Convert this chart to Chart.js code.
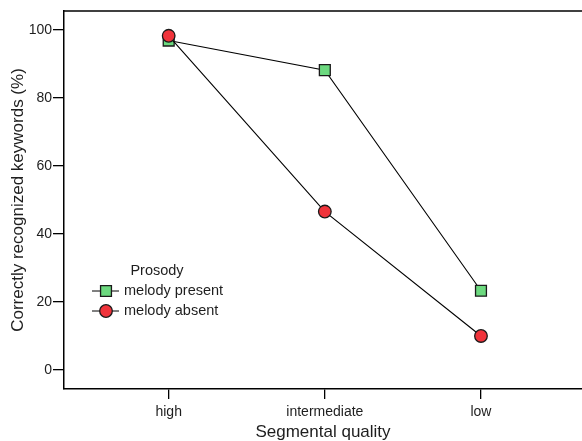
<!DOCTYPE html>
<html>
<head>
<meta charset="utf-8">
<script src="https://cdn.jsdelivr.net/npm/chart.js@4/dist/chart.umd.min.js"></script>
<style>
  html, body { margin: 0; padding: 0; background: #fff; overflow: hidden; }
  #wrap { width: 582px; height: 441px; }
  canvas { display: block; }
</style>
</head>
<body>
<div id="wrap"><canvas id="c" width="582" height="441"></canvas></div>
<script>
const categories = ['high', 'intermediate', 'low'];
const melodyPresent = [96.9, 88.2, 23.3];
const melodyAbsent = [98.3, 46.6, 10.0];
const yTicks = [0, 20, 40, 60, 80, 100];
const seriesLabels = ['melody present', 'melody absent'];
const legendTitle = 'Prosody';
const xTitle = 'Segmental quality';
const yTitle = 'Correctly recognized keywords (%)';

const FONT = "'Liberation Sans', Arial, Helvetica, sans-serif";
const TEXT = '#1e1e1e';

const topBorder = {
  id: 'topBorder',
  afterDraw(chart) {
    const { ctx, chartArea } = chart;
    ctx.save();
    // keep the right side open, like the reference
    ctx.fillStyle = '#fff';
    ctx.fillRect(chartArea.right - 3, chartArea.top + 1, 3, chartArea.bottom - chartArea.top - 2);
    ctx.strokeStyle = '#000';
    ctx.lineWidth = 1.5;
    ctx.beginPath();
    ctx.moveTo(chartArea.left - 0.75, chartArea.top);
    ctx.lineTo(chartArea.right, chartArea.top);
    ctx.stroke();
    ctx.restore();
  }
};

const innerLegend = {
  id: 'innerLegend',
  afterDraw(chart) {
    const { ctx } = chart;
    ctx.save();
    ctx.font = '14.5px ' + FONT;
    ctx.fillStyle = TEXT;
    ctx.textBaseline = 'middle';
    ctx.textAlign = 'center';
    ctx.fillText(legendTitle, 157, 271);
    const rows = [chart.data.datasets[0], chart.data.datasets[1]];
    rows.forEach((ds, i) => {
      const y = 291 + i * 20;
      ctx.strokeStyle = '#000';
      ctx.lineWidth = 1;
      ctx.beginPath();
      ctx.moveTo(92, y);
      ctx.lineTo(119, y);
      ctx.stroke();
      ctx.fillStyle = ds.pointBackgroundColor;
      ctx.strokeStyle = ds.pointBorderColor;
      ctx.lineWidth = ds.pointBorderWidth;
      ctx.beginPath();
      if (ds.pointStyle === 'rect') {
        const s = Math.SQRT1_2 * ds.pointRadius;
        ctx.rect(106 - s, y - s, 2 * s, 2 * s);
      } else {
        ctx.arc(106, y, ds.pointRadius, 0, Math.PI * 2);
      }
      ctx.fill();
      ctx.stroke();
      ctx.fillStyle = TEXT;
      ctx.textAlign = 'left';
      ctx.fillText(ds.label, 124, y);
    });
    ctx.restore();
  }
};

new Chart(document.getElementById('c'), {
  type: 'line',
  data: {
    datasets: [
      {
        label: seriesLabels[0],
        data: categories.map((c, i) => ({ x: i, y: melodyPresent[i] })),
        borderColor: '#000',
        borderWidth: 1.1,
        pointStyle: 'rect',
        pointRadius: 7.7,
        pointHoverRadius: 7.7,
        pointBackgroundColor: '#6cd97f',
        pointBorderColor: '#1a1a1a',
        pointBorderWidth: 1.3,
        tension: 0,
        clip: false,
        order: 1
      },
      {
        label: seriesLabels[1],
        data: categories.map((c, i) => ({ x: i, y: melodyAbsent[i] })),
        borderColor: '#000',
        borderWidth: 1.1,
        pointStyle: 'circle',
        pointRadius: 6.3,
        pointHoverRadius: 6.3,
        pointBackgroundColor: '#f0333b',
        pointBorderColor: '#1a1a1a',
        pointBorderWidth: 1.3,
        tension: 0,
        clip: false,
        order: 0
      }
    ]
  },
  options: {
    responsive: false,
    animation: false,
    devicePixelRatio: 1,
    events: [],
    layout: { autoPadding: false, padding: { top: 11, right: 0, left: 0, bottom: 0 } },
    plugins: { legend: { display: false }, tooltip: { enabled: false } },
    scales: {
      x: {
        type: 'linear',
        min: -0.6705,
        max: 2.647,
        afterFit(scale) { scale.height = 52; scale.paddingRight = 0; scale.paddingLeft = 0; },
        afterBuildTicks(scale) { scale.ticks = categories.map((c, i) => ({ value: i })); },
        ticks: {
          callback: (v) => categories[v],
          font: { family: FONT, size: 14 },
          color: TEXT,
          padding: 5,
          maxRotation: 0,
          autoSkip: false
        },
        grid: { drawOnChartArea: false, drawTicks: true, tickLength: 10, color: '#000', lineWidth: 1.3 },
        border: { display: true, color: '#000', width: 1.5 },
        title: { display: true, text: xTitle, font: { family: FONT, size: 17, lineHeight: 1 }, color: TEXT, padding: { top: 0, bottom: 0.5 } }
      },
      y: {
        type: 'linear',
        min: -5.6,
        max: 105.6,
        afterFit(scale) { scale.width = 64; },
        afterBuildTicks(scale) { scale.ticks = yTicks.map(v => ({ value: v })); },
        ticks: {
          font: { family: FONT, size: 14 },
          color: TEXT,
          padding: 1
        },
        grid: { drawOnChartArea: false, drawTicks: true, tickLength: 11, color: '#000', lineWidth: 1.3 },
        border: { display: true, color: '#000', width: 1.5 },
        title: { display: true, text: yTitle, font: { family: FONT, size: 17, lineHeight: 1 }, color: TEXT, padding: { top: 10, bottom: 0 } }
      }
    }
  },
  plugins: [topBorder, innerLegend]
});
</script>
</body>
</html>
